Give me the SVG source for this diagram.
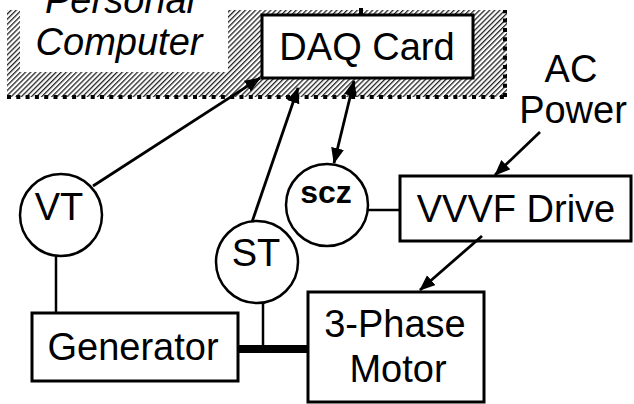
<svg xmlns="http://www.w3.org/2000/svg" width="634" height="404" viewBox="0 0 634 404">
  <style>
    .box { fill: #fff; stroke: #000; stroke-width: 3; }
    .circ { fill: #fff; stroke: #000; stroke-width: 2.5; }
    .lbl { font-family: "Liberation Sans", Arial, sans-serif; font-size: 38px; fill: #000; text-anchor: middle; }
    .it { font-style: italic; }
    .wire { fill: none; stroke: #000; stroke-width: 2.5; }
    .arrow { fill: none; stroke: #000; stroke-width: 2.8; marker-end: url(#head); }
  </style>
  <defs>
    <pattern id="hatch" patternUnits="userSpaceOnUse" width="3.6" height="3.6" patternTransform="rotate(45)">
      <rect x="0" y="0" width="1.3" height="3.6" fill="#222"/>
    </pattern>
    <marker id="head" markerUnits="userSpaceOnUse" markerWidth="16" markerHeight="14" refX="15" refY="6.5" orient="auto-start-reverse">
      <path d="M0,0 L16,6.5 L0,13 Z" fill="#000"/>
    </marker>
  </defs>
  <rect width="634" height="404" fill="#fff"/>

  <!-- PC enclosure: hatched frame with dotted outer edge -->
  <g id="pc">
    <rect x="7" y="10" width="500" height="87" fill="url(#hatch)"/>
    <rect x="20" y="0" width="208" height="72" fill="#fff"/>
    <path d="M7,97 H506 M505,97 V10" fill="none" stroke="#000" stroke-width="4" stroke-dasharray="4 5.3"/>
    <text class="lbl it" x="120" y="13">Personal</text>
    <text class="lbl it" x="119" y="55">Computer</text>
  </g>

  <g id="daq">
    <rect class="box" x="262" y="15" width="211" height="63"/>
    <line x1="361" y1="8" x2="361" y2="15" stroke="#000" stroke-width="4"/>
    <text class="lbl" x="367" y="60">DAQ Card</text>
  </g>

  <g id="ac-power">
    <text class="lbl" x="571" y="82">AC</text>
    <text class="lbl" x="573" y="123">Power</text>
  </g>

  <g id="vvvf">
    <rect class="box" x="400" y="176" width="231" height="65"/>
    <text class="lbl" x="516" y="222">VVVF Drive</text>
  </g>

  <g id="scz">
    <circle class="circ" cx="327" cy="205" r="41"/>
    <text class="lbl" x="326" y="203" style="font-size:32px;font-weight:bold">scz</text>
  </g>

  <g id="vt">
    <circle class="circ" cx="61" cy="215" r="41"/>
    <text class="lbl" x="59" y="220">VT</text>
  </g>

  <g id="st">
    <circle class="circ" cx="257" cy="262" r="41"/>
    <text class="lbl" x="256" y="266">ST</text>
  </g>

  <g id="generator">
    <rect class="box" x="32" y="313" width="206" height="68"/>
    <text class="lbl" x="133" y="360">Generator</text>
  </g>

  <g id="motor">
    <rect class="box" x="308" y="292" width="176" height="110"/>
    <text class="lbl" x="395" y="337">3-Phase</text>
    <text class="lbl" x="398" y="382">Motor</text>
  </g>

  <g id="connectors">
    <line class="wire" x1="56" y1="256" x2="56" y2="313"/>
    <line class="wire" x1="263" y1="303" x2="263" y2="346"/>
    <line class="wire" x1="368" y1="210" x2="400" y2="210"/>
    <line x1="238" y1="349" x2="308" y2="349" stroke="#000" stroke-width="8"/>
    <line class="arrow" x1="93" y1="186" x2="260" y2="78"/>
    <line class="arrow" x1="252" y1="222" x2="298" y2="88"/>
    <line class="arrow" x1="354" y1="81" x2="334" y2="163" style="marker-start:url(#head)"/>
    <line class="arrow" x1="540" y1="132" x2="495" y2="175"/>
    <line class="arrow" x1="482" y1="236" x2="420" y2="290"/>
  </g>
</svg>
